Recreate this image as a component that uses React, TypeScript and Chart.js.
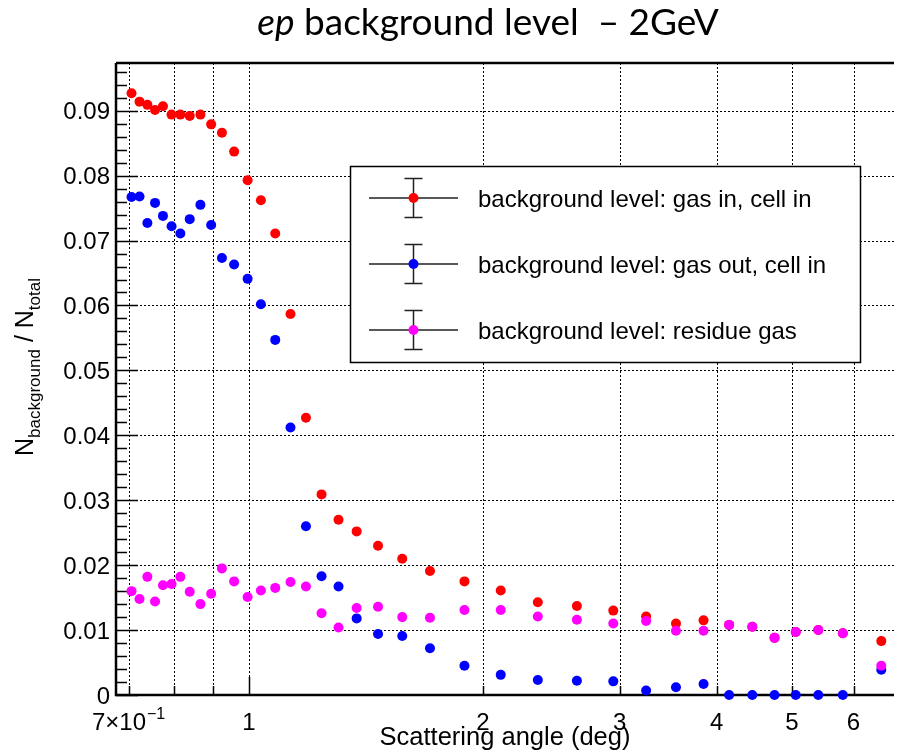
import { useEffect, useRef } from "react";
import { Chart, registerables } from "chart.js";

Chart.register(...registerables);

// Scattering angle bins (deg)
const angles = [
  0.706, 0.723, 0.74, 0.757, 0.775, 0.795, 0.816, 0.839, 0.866, 0.894, 0.923, 0.957,
  0.996, 1.036, 1.081, 1.131, 1.184, 1.24, 1.304, 1.376, 1.466, 1.575, 1.71, 1.894,
  2.109, 2.354, 2.643, 2.944, 3.245, 3.545, 3.847, 4.15, 4.445, 4.748, 5.056, 5.405,
  5.813, 6.515,
];

// N_background / N_total for each configuration
const gasInCellIn = [
  0.0927, 0.0914, 0.0909, 0.0901, 0.0907, 0.0894, 0.0894, 0.0892, 0.0894, 0.0879, 0.0866,
  0.0837, 0.0793, 0.0762, 0.0711, 0.0587, 0.0427, 0.0309, 0.027, 0.0252, 0.023, 0.021,
  0.0191, 0.0175, 0.0161, 0.0143, 0.0137, 0.013, 0.0121, 0.011, 0.0115, 0.0108, 0.0105,
  0.0088, 0.0097, 0.01, 0.0095, 0.0083,
];
const gasOutCellIn = [
  0.0767, 0.0768, 0.0727, 0.0758, 0.0738, 0.0722, 0.0711, 0.0733, 0.0755, 0.0724, 0.0673,
  0.0663, 0.0641, 0.0602, 0.0547, 0.0412, 0.026, 0.0183, 0.0167, 0.0118, 0.0094, 0.0091,
  0.0072, 0.0045, 0.0031, 0.0023, 0.0022, 0.0021, 0.0007, 0.0012, 0.0017, 0, 0, 0, 0, 0,
  0, 0.0039,
];
const residueGas = [
  0.016, 0.0148, 0.0182, 0.0144, 0.0169, 0.0171, 0.0182, 0.0159, 0.014, 0.0156, 0.0195,
  0.0175, 0.0151, 0.0161, 0.0165, 0.0174, 0.0167, 0.0126, 0.0104, 0.0134, 0.0136, 0.012,
  0.0119, 0.0131, 0.0131, 0.0121, 0.0116, 0.011, 0.0114, 0.0099, 0.0099, 0.0108, 0.0105,
  0.0088, 0.0097, 0.01, 0.0095, 0.0045,
];

const seriesNames = [
  "background level: gas in, cell in",
  "background level: gas out, cell in",
  "background level: residue gas",
];
const seriesColors = ["#ff0000", "#0000ff", "#ff00ff"];

// Axis ranges and ticks
const X_MIN = 0.6743;
const X_MAX = 6.765;
const Y_MAX = 0.09735;
const xGridValues = [0.7, 0.8, 0.9, 1, 2, 3, 4, 5, 6];
const xMajorTicks = [1];
const xLabelValues = [1, 2, 3, 4, 5, 6];
const yMajorTicks = [0, 0.01, 0.02, 0.03, 0.04, 0.05, 0.06, 0.07, 0.08, 0.09];
const yMinorStep = 0.002;

const SANS = "'Liberation Sans', Arial, Helvetica, sans-serif";

const toPoints = (ys: number[]) => angles.map((a, i) => ({ x: a, y: ys[i] }));

const rootFrame = {
  id: "rootFrame",
  beforeDatasetsDraw(chart: any) {
    const { ctx, chartArea: a } = chart;
    const xs = chart.scales.x;
    const ys = chart.scales.y;
    ctx.save();

    // dotted grid
    ctx.strokeStyle = "#000";
    ctx.lineWidth = 1;
    ctx.setLineDash([2, 2]);
    ctx.beginPath();
    for (const v of xGridValues) {
      const px = Math.round(xs.getPixelForValue(v)) + 0.5;
      ctx.moveTo(px, a.top);
      ctx.lineTo(px, a.bottom);
    }
    for (const v of yMajorTicks) {
      if (v === 0) continue;
      const py = Math.round(ys.getPixelForValue(v)) + 0.5;
      ctx.moveTo(a.left, py);
      ctx.lineTo(a.right, py);
    }
    ctx.stroke();
    ctx.setLineDash([]);

    // y ticks
    ctx.lineWidth = 1.5;
    ctx.beginPath();
    for (let v = 0; v <= Y_MAX + 1e-9; v += yMinorStep) {
      const py = Math.round(ys.getPixelForValue(v)) + 0.5;
      const major = Math.abs(v / 0.01 - Math.round(v / 0.01)) < 1e-6;
      ctx.moveTo(a.left, py);
      ctx.lineTo(a.left + (major ? 22 : 11), py);
    }
    // x ticks
    for (const v of xGridValues) {
      const px = Math.round(xs.getPixelForValue(v)) + 0.5;
      const major = xMajorTicks.includes(v);
      ctx.moveTo(px, a.bottom);
      ctx.lineTo(px, a.bottom - (major ? 18 : 9));
    }
    ctx.stroke();

    // frame
    ctx.lineWidth = 2.5;
    ctx.beginPath();
    ctx.moveTo(a.left, a.top);
    ctx.lineTo(a.right, a.top);
    ctx.moveTo(a.left, a.top);
    ctx.lineTo(a.left, a.bottom);
    ctx.lineTo(a.right, a.bottom);
    ctx.stroke();
    ctx.restore();
  },
  afterDraw(chart: any) {
    const { ctx, chartArea: a } = chart;
    const xs = chart.scales.x;
    const ys = chart.scales.y;
    ctx.save();
    ctx.fillStyle = "#000";

    // y tick labels
    ctx.font = `24px ${SANS}`;
    ctx.textAlign = "right";
    ctx.textBaseline = "alphabetic";
    for (const v of yMajorTicks) {
      const py = ys.getPixelForValue(v);
      const txt = v === 0 ? "0" : v.toFixed(2);
      ctx.fillText(txt, a.left - 6, py + 8.5);
    }

    // x tick labels
    const xBase = 729.5;
    ctx.textAlign = "center";
    for (const v of xLabelValues) {
      ctx.fillText(String(v), xs.getPixelForValue(v), xBase);
    }
    // 7x10^-1 label at the lower edge
    {
      ctx.textAlign = "left";
      const main = "7×10";
      const sup = "−1";
      ctx.font = `24px ${SANS}`;
      const wMain = ctx.measureText(main).width;
      ctx.font = `16px ${SANS}`;
      const wSup = ctx.measureText(sup).width;
      const cx = xs.getPixelForValue(0.7);
      const x0 = cx - (wMain + wSup + 1) / 2;
      ctx.font = `24px ${SANS}`;
      ctx.fillText(main, x0, xBase);
      ctx.font = `16px ${SANS}`;
      ctx.fillText(sup, x0 + wMain + 1, xBase - 11);
    }

    // x title
    ctx.font = `25.5px ${SANS}`;
    ctx.textAlign = "center";
    ctx.fillText("Scattering angle (deg)", (a.left + a.right) / 2, 745);

    // y title, rotated, with subscripts
    {
      const parts = [
        { t: "N", s: 25, d: 0 },
        { t: "background", s: 17, d: 6.5 },
        { t: " / ", s: 25, d: 0 },
        { t: "N", s: 25, d: 0 },
        { t: "total", s: 17, d: 6.5 },
      ];
      let total = 0;
      for (const p of parts) {
        ctx.font = `${p.s}px ${SANS}`;
        total += ctx.measureText(p.t).width;
      }
      ctx.translate(33, 367);
      ctx.rotate(-Math.PI / 2);
      ctx.textAlign = "left";
      let x = -total / 2;
      for (const p of parts) {
        ctx.font = `${p.s}px ${SANS}`;
        ctx.fillText(p.t, x, p.d);
        x += ctx.measureText(p.t).width;
      }
      ctx.setTransform(1, 0, 0, 1, 0, 0);
    }

    // title
    {
      const TF = "Lato, 'Noto Sans', sans-serif";
      const size = 37;
      const it = "ep";
      const rest = " background level  – 2GeV";
      ctx.font = `italic ${size}px ${TF}`;
      const w1 = ctx.measureText(it).width;
      ctx.font = `${size}px ${TF}`;
      const w2 = ctx.measureText(rest).width;
      const x0 = 488 - (w1 + w2) / 2;
      ctx.textAlign = "left";
      ctx.font = `italic ${size}px ${TF}`;
      ctx.fillText(it, x0, 35);
      ctx.font = `${size}px ${TF}`;
      ctx.fillText(rest, x0 + w1, 35);
    }

    // legend box
    ctx.fillStyle = "#fff";
    ctx.fillRect(350, 166, 510, 196);
    ctx.strokeStyle = "#000";
    ctx.lineWidth = 1.5;
    ctx.strokeRect(350.5, 166.5, 510, 196);
    const rowY = [198, 264, 330];
    seriesNames.forEach((name, i) => {
      const y = rowY[i];
      const mx = 413.5;
      ctx.strokeStyle = "#222";
      ctx.lineWidth = 1.5;
      ctx.beginPath();
      ctx.moveTo(369, y);
      ctx.lineTo(458, y);
      ctx.moveTo(mx, y - 19.5);
      ctx.lineTo(mx, y + 19.5);
      ctx.moveTo(mx - 9, y - 19.5);
      ctx.lineTo(mx + 9, y - 19.5);
      ctx.moveTo(mx - 9, y + 19.5);
      ctx.lineTo(mx + 9, y + 19.5);
      ctx.stroke();
      ctx.fillStyle = seriesColors[i];
      ctx.beginPath();
      ctx.arc(mx, y, 5, 0, Math.PI * 2);
      ctx.fill();
      ctx.fillStyle = "#000";
      ctx.font = `24px ${SANS}`;
      ctx.textAlign = "left";
      ctx.fillText(name, 478, y + 8.5);
    });

    ctx.restore();
  },
};

export default function App() {
  const ref = useRef<HTMLCanvasElement>(null);

  useEffect(() => {
    const canvas = ref.current;
    if (!canvas) return;
    const series = [gasInCellIn, gasOutCellIn, residueGas];
    const chart = new Chart(canvas, {
      type: "scatter",
      data: {
        datasets: series.map((ys, i) => ({
          label: seriesNames[i],
          data: toPoints(ys),
          backgroundColor: seriesColors[i],
          borderColor: seriesColors[i],
          pointRadius: 5,
          pointBorderWidth: 0,
          pointHoverRadius: 5,
          clip: false as any,
          order: 3 - i,
        })),
      },
      options: {
        responsive: false,
        animation: false,
        devicePixelRatio: 1,
        events: [],
        layout: { padding: { left: 116, top: 63, right: 0, bottom: 58 } },
        plugins: {
          legend: { display: false },
          tooltip: { enabled: false },
          title: { display: false },
        },
        scales: {
          x: { type: "logarithmic", min: X_MIN, max: X_MAX, display: false },
          y: { type: "linear", min: 0, max: Y_MAX, display: false },
        },
      },
      plugins: [rootFrame],
    });
    return () => chart.destroy();
  }, []);

  return (
    <div style={{ position: "absolute", left: 0, top: 0, width: 899, height: 753, background: "#fff" }}>
      <canvas ref={ref} width={899} height={753} style={{ display: "block" }} />
    </div>
  );
}
